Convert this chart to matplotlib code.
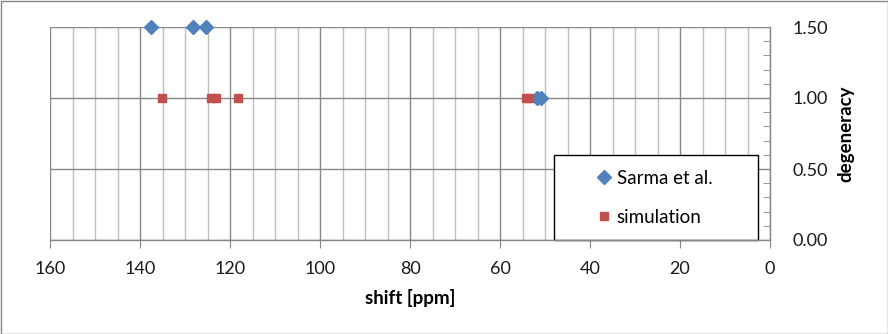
import matplotlib
matplotlib.use("Agg")
import matplotlib.pyplot as plt
from matplotlib.patches import Rectangle
from matplotlib.ticker import MultipleLocator, FormatStrFormatter

plt.rcParams['font.family'] = ['Lato', 'DejaVu Sans']

# Chemical shifts (ppm) and their degeneracy
sarma_shift = [137.6, 128.2, 125.3, 51.8, 51.0]
sarma_deg = [1.5, 1.5, 1.5, 1.0, 1.0]
sim_shift = [135.1, 124.2, 123.1, 118.2, 54.2, 53.6]
sim_deg = [1.0, 1.0, 1.0, 1.0, 1.0, 1.0]

x_ticks = [160, 140, 120, 100, 80, 60, 40, 20, 0]
y_ticks = [0.0, 0.5, 1.0, 1.5]

blue = '#4F81BD'
red = '#C0504D'

fig = plt.figure(figsize=(8.88, 3.34), dpi=100)
ax = fig.add_axes([50 / 888, 1 - 240 / 334, 720 / 888, 213 / 334])

ax.set_xlim(160, 0)
ax.set_ylim(0, 1.5)

ax.xaxis.set_major_locator(MultipleLocator(20))
ax.xaxis.set_minor_locator(MultipleLocator(5))
ax.yaxis.set_major_locator(MultipleLocator(0.5))
ax.yaxis.set_minor_locator(MultipleLocator(0.1))
ax.set_xticks(x_ticks)
ax.set_yticks(y_ticks)
ax.yaxis.set_major_formatter(FormatStrFormatter('%.2f'))

ax.yaxis.tick_right()
ax.yaxis.set_label_position('right')

ax.grid(which='major', axis='both', color='#878787', linewidth=1.0)
ax.grid(which='minor', axis='x', color='#BFBFBF', linewidth=1.0)
ax.set_axisbelow(True)

for side in ('top', 'left'):
    ax.spines[side].set_visible(False)
for side in ('bottom', 'right'):
    ax.spines[side].set_color('#878787')
    ax.spines[side].set_linewidth(1.0)

ax.tick_params(axis='x', which='major', direction='out', length=6, color='#878787',
               labelsize=13, pad=9, labelcolor='#1a1a1a')
ax.tick_params(axis='x', which='minor', length=0)
ax.tick_params(axis='y', which='both', direction='in', length=5, color='#878787',
               labelsize=13, pad=16, labelcolor='#1a1a1a')
ax.tick_params(axis='y', which='major', length=0)
ax.tick_params(axis='y', which='minor', right=True)

ax.plot(sarma_shift, sarma_deg, linestyle='none', marker='D', markersize=7.5,
        color=blue, label='Sarma et al.', clip_on=False, zorder=3)
ax.plot(sim_shift, sim_deg, linestyle='none', marker='s', markersize=5.5,
        color=red, label='simulation', clip_on=False, zorder=3)

ax.set_xlabel('shift [ppm]', fontsize=13.5, fontweight='bold', labelpad=9)
ax.set_ylabel('degeneracy', fontsize=13.5, fontweight='bold', labelpad=7)

# legend frame
ax.add_patch(Rectangle(((554 - 50) / 720, 0), (758 - 554) / 720, (240 - 155) / 213,
                       transform=ax.transAxes, facecolor='white', edgecolor='black',
                       linewidth=1.0, zorder=2, clip_on=False))
leg = ax.legend(loc='upper left', bbox_to_anchor=((596 - 50) / 720, (240 - 170) / 213),
                frameon=False, borderpad=0, borderaxespad=0, handlelength=0.8,
                handletextpad=0.3, labelspacing=1.17, fontsize=13.5, numpoints=1)
leg.set_zorder(4)

# chart border
fig.patches.append(Rectangle((0.5 / 888, 0.5 / 334), 887 / 888, 333 / 334,
                             transform=fig.transFigure, fill=False,
                             edgecolor='#868686', linewidth=1.0))

fig.savefig('out.png', dpi=100)
